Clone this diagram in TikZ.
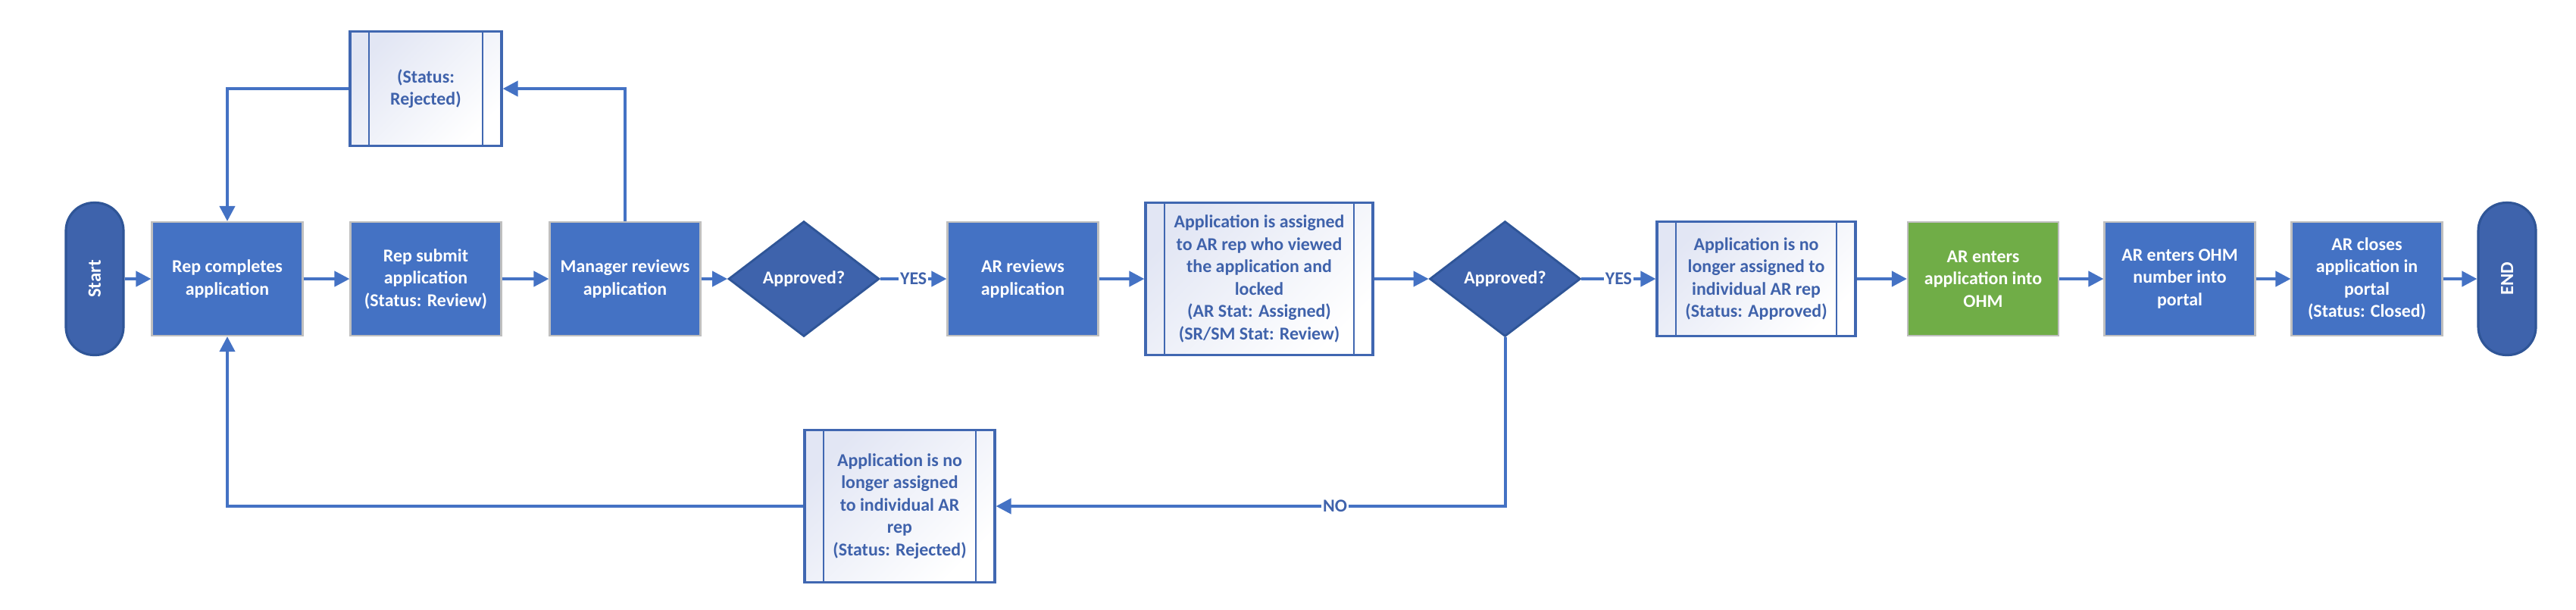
\documentclass[tikz,border=0pt]{standalone}
\usepackage{fontspec}
\setmainfont{Carlito}
\usepackage{tikz}
\usetikzlibrary{shapes.geometric,arrows.meta}

\definecolor{procblue}{HTML}{4472C4}
\definecolor{procedge}{HTML}{BFBFBF}
\definecolor{termblue}{HTML}{3E63AC}
\definecolor{termedge}{HTML}{2F5597}
\definecolor{ohmgreen}{HTML}{70AD47}
\definecolor{subedge}{HTML}{4067B1}
\definecolor{subtext}{HTML}{3F62AB}
\definecolor{subfill}{HTML}{E2E6F4}

\begin{document}
\begin{tikzpicture}[node distance=2.6cm, >={Triangle[length=0.2cm,width=0.2cm]},
  font=\fontsize{6.8}{8.4}\selectfont\bfseries]
\tikzstyle{block} = [draw=procedge, line width=0.6pt, fill=procblue, text=white, rectangle, align=center, minimum height=1.5cm, minimum width=1.99cm, inner sep=1pt]
\tikzstyle{decision} = [draw=termedge, line width=0.8pt, fill=termblue, text=white, diamond, align=center, minimum height=1.52cm, minimum width=1.99cm, inner sep=0pt]
\tikzstyle{terminal} = [draw=termedge, line width=0.9pt, fill=termblue, text=white, rectangle, rounded corners=0.37cm, rotate=90, minimum width=2.01cm, minimum height=0.76cm, font=\fontsize{7}{8}\selectfont\bfseries]
\tikzstyle{subproc} = [draw=subedge, line width=0.9pt, top color=subfill, bottom color=white, shading angle=45, text=subtext, rectangle, align=center, inner sep=1pt,
  path picture={\draw[subedge, line width=0.8pt] ([xshift=0.25cm]path picture bounding box.north west) -- ([xshift=0.25cm]path picture bounding box.south west);
                \draw[subedge, line width=0.8pt] ([xshift=-0.25cm]path picture bounding box.north east) -- ([xshift=-0.25cm]path picture bounding box.south east);}]
\tikzstyle{line} = [draw=procblue, line width=1.15pt]
\tikzstyle{answer} = [fill=white, text=subtext, inner sep=0.6pt, anchor=center]

\useasboundingbox (0,0) rectangle (34,-8.04);

    % We start by placing the blocks of the main row
    \node [terminal] (start) at (1.25,-3.68) {Start};
    \node [block, right of = start, node distance=1.75cm] (complete) {Rep completes\\application};
    \node [block, right of = complete, node distance=2.62cm] (submit) {Rep submit\\application\\(Status: Review)};
    \node [block, right of = submit, node distance=2.63cm] (manager) {Manager reviews\\application};
    \node [decision, right of = manager, node distance=2.36cm] (approved1) {Approved?};
    \node [block, right of = approved1, node distance=2.89cm] (arreview) {AR reviews\\application};
    \node [subproc, right of = arreview, node distance=3.12cm, minimum width=3.0cm, minimum height=2.01cm] (assigned) {Application is assigned\\to AR rep who viewed\\the application and\\locked\\(AR Stat: Assigned)\\(SR/SM Stat: Review)};
    \node [decision, right of = assigned, node distance=3.245cm] (approved2) {Approved?};
    \node [subproc, right of = approved2, node distance=3.315cm, minimum width=2.62cm, minimum height=1.51cm] (released) {Application is no\\longer assigned to\\individual AR rep\\(Status: Approved)};
    \node [block, fill=ohmgreen, right of = released, node distance=2.995cm] (enterohm) {AR enters\\application into\\OHM};
    \node [block, right of = enterohm, node distance=2.595cm] (ohmnumber) {AR enters OHM\\number into\\portal};
    \node [block, right of = ohmnumber, node distance=2.47cm] (closes) {AR closes\\application in\\portal\\(Status: Closed)};
    \node [terminal] (end) at (33.09,-3.68) {END};

    % the two rejected states
    \node [subproc, above of = submit, node distance=2.51cm, minimum width=2.0cm, minimum height=1.51cm] (rejtop) {(Status:\\Rejected)};
    \node [subproc, minimum width=2.51cm, minimum height=2.01cm] (rejbottom) at (11.875,-6.68) {Application is no\\longer assigned\\to individual AR\\rep\\(Status: Rejected)};

    % Once the nodes are placed, connecting them is easy.
    \draw [line, ->] (start) -- (complete);
    \draw [line, ->] (complete) -- (submit);
    \draw [line, ->] (submit) -- (manager);
    \draw [line, ->] (manager) -- (approved1);
    \draw [line, ->] (approved1) -- node[answer, midway] {YES} (arreview);
    \draw [line, ->] (arreview) -- (assigned);
    \draw [line, ->] (assigned) -- (approved2);
    \draw [line, ->] (approved2) -- node[answer, midway] {YES} (released);
    \draw [line, ->] (released) -- (enterohm);
    \draw [line, ->] (enterohm) -- (ohmnumber);
    \draw [line, ->] (ohmnumber) -- (closes);
    \draw [line, ->] (closes) -- (end);

    % loops back to the rep
    \draw [line, ->] (manager.north) |- (rejtop.east);
    \draw [line, ->] (rejtop.west) -| (complete.north);
    \draw [line, ->] (approved2.south) |- node[answer, pos=0.667] {NO} (rejbottom.east);
    \draw [line, ->] (rejbottom.west) -| (complete.south);

\end{tikzpicture}
\end{document}
